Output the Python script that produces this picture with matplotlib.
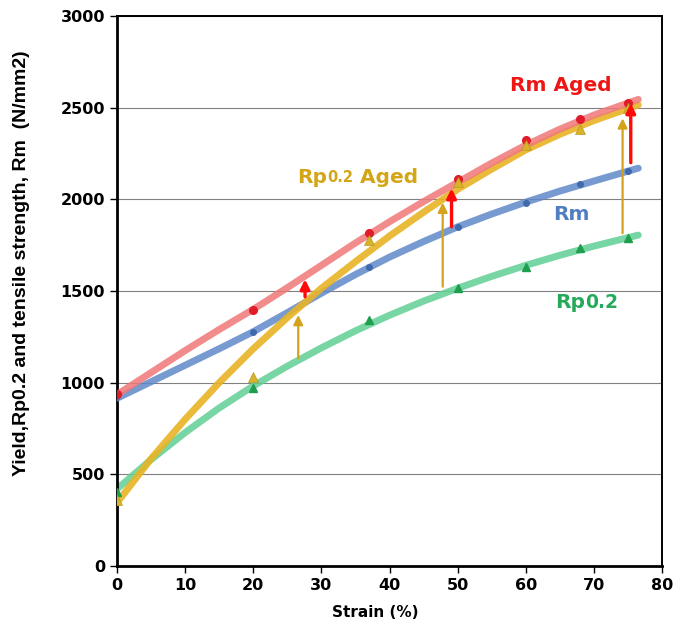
import matplotlib
matplotlib.use("Agg")
import matplotlib.pyplot as plt

# measured points (markers)
strain = [0, 20, 37, 50, 60, 68, 75]
rm_aged = [938, 1396, 1817, 2110, 2324, 2438, 2527]
rm = [925, 1275, 1631, 1851, 1979, 2084, 2155]
rp = [405, 973, 1342, 1515, 1633, 1733, 1791]
rp_aged = [360, 1033, 1778, 2097, 2297, 2384, 2497]

# trend lines
fit_x = [0, 5, 10, 15, 20, 25, 30, 35, 40, 45, 50, 55, 60, 65, 70, 76.5]
fit_rm_aged = [935, 1055, 1175, 1290, 1400, 1518, 1640, 1762, 1878, 1988, 2093, 2198, 2296, 2383, 2460, 2545]
fit_rm = [915, 1005, 1095, 1185, 1278, 1382, 1488, 1590, 1685, 1770, 1850, 1920, 1985, 2045, 2100, 2170]
fit_rp = [420, 580, 728, 862, 982, 1090, 1190, 1283, 1368, 1445, 1515, 1580, 1640, 1695, 1745, 1805]
fit_rp_aged = [345, 585, 800, 1000, 1185, 1355, 1515, 1660, 1800, 1930, 2055, 2165, 2270, 2355, 2430, 2515]

# ageing arrows
gold_arrow_x = [26.6, 47.8, 74.2]
gold_arrow_from = [1133, 1524, 1815]
gold_arrow_to = [1369, 1982, 2442]
red_arrow_x = [27.6, 49.1, 75.4]
red_arrow_from = [1469, 1851, 2200]
red_arrow_to = [1564, 2060, 2524]

fig = plt.figure(figsize=(6.84, 6.28), dpi=100)
ax = fig.add_axes([0.171, 0.0987, 0.797, 0.8758])

ax.plot(fit_x, fit_rp, color='#5fcf93', lw=5, alpha=0.85, solid_capstyle='round', zorder=2)
ax.plot(fit_x, fit_rm, color='#5f88c8', lw=5, alpha=0.85, solid_capstyle='round', zorder=3)
ax.plot(fit_x, fit_rp_aged, color='#e8b425', lw=5, alpha=0.9, solid_capstyle='round', zorder=4)
ax.plot(fit_x, fit_rm_aged, color='#f07878', lw=5, alpha=0.85, solid_capstyle='round', zorder=5)

ax.plot(strain, rp, '^', color='#1f9e4e', ms=6, zorder=6)
ax.plot(strain, rm, 'o', color='#3f6aac', ms=4, zorder=6)
ax.plot(strain, rm_aged, 'o', color='#e01c2a', ms=5.5, zorder=6)
ax.plot(strain, rp_aged, '^', color='#d9b12a', ms=6.5, mec='#b89a20', mew=0.5, zorder=7)

for x, y0, y1 in zip(gold_arrow_x, gold_arrow_from, gold_arrow_to):
    ax.annotate('', xy=(x, y1), xytext=(x, y0), zorder=8,
                arrowprops=dict(arrowstyle='-|>', color='#d4a21c', lw=1.6,
                                mutation_scale=14, shrinkA=0, shrinkB=0))
for x, y0, y1 in zip(red_arrow_x, red_arrow_from, red_arrow_to):
    ax.annotate('', xy=(x, y1), xytext=(x, y0), zorder=8,
                arrowprops=dict(arrowstyle='-|>', color='#ff0a0a', lw=2.4,
                                mutation_scale=14, shrinkA=0, shrinkB=0))

# series labels
ax.text(57.7, 2619, 'Rm Aged', color='#ee1515', fontsize=14.5, fontweight='bold', va='center', ha='left')
ax.text(64.0, 1915, 'Rm', color='#4f7fc0', fontsize=14.5, fontweight='bold', va='center', ha='left')

t1 = ax.text(26.4, 2117, 'Rp', color='#d4a516', fontsize=14.5, fontweight='bold', va='center', ha='left')
t2 = ax.annotate('0.2', xy=(1, 0.14), xycoords=t1, color='#d4a516', fontsize=10.5,
                 fontweight='bold', va='bottom', ha='left')
ax.annotate(' Aged', xy=(1, 0), xycoords=t2, xytext=(0, -1.6), textcoords='offset points',
            color='#d4a516', fontsize=14.5, fontweight='bold', va='bottom', ha='left')

g1 = ax.text(64.3, 1440, 'Rp', color='#25a95a', fontsize=14.5, fontweight='bold', va='center', ha='left')
ax.annotate('0.2', xy=(1, -0.05), xycoords=g1, color='#25a95a', fontsize=13.5,
            fontweight='bold', va='bottom', ha='left')

ax.set_xlim(0, 80)
ax.set_ylim(0, 3000)
ax.set_xticks(range(0, 81, 10))
ax.set_yticks(range(0, 3001, 500))
ax.yaxis.grid(True, color='#808080', lw=0.8)
ax.set_axisbelow(True)
ax.tick_params(direction='out', length=5, width=1, labelsize=11.5)
for lab in ax.get_xticklabels() + ax.get_yticklabels():
    lab.set_fontweight('bold')
for s in ax.spines.values():
    s.set_linewidth(1.4)
ax.spines['left'].set_linewidth(2)
ax.spines['bottom'].set_linewidth(2)

ax.set_xlabel('Strain (%)', fontsize=11, fontweight='bold')
ax.xaxis.set_label_coords(0.473, -0.07)
ax.set_ylabel('Yield,Rp0.2 and tensile strength, Rm  (N/mm2)', fontsize=14,
              fontweight='bold', family='Liberation Sans')
ax.yaxis.set_label_coords(-0.16, 0.55)

fig.savefig('out.png', dpi=100)
